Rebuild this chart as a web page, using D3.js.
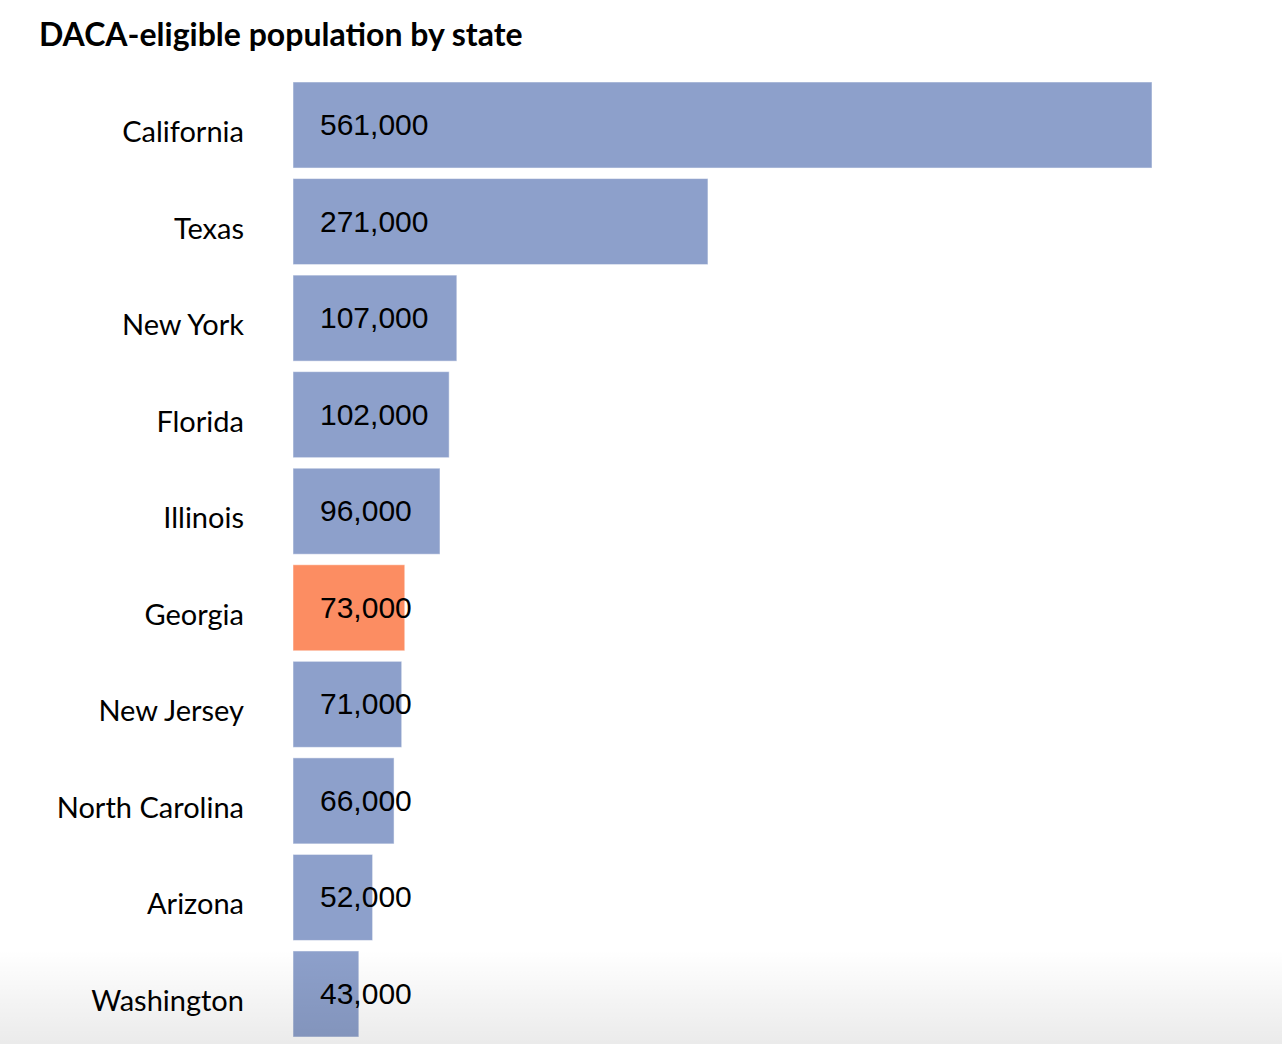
<!DOCTYPE html>
<html>
<head>
<title>DACA-eligible population by state</title>
<script src="https://d3js.org/d3.v7.min.js"></script>
<style>
  body { margin: 0; background: #fff; }
  .state { font-family: Lato, sans-serif; font-size: 29px; fill: #000; }
  .value { font-family: "Liberation Sans", Arial, sans-serif; font-size: 30px; fill: #000; }
  .title { font-family: Lato, sans-serif; font-size: 32px; font-weight: bold; fill: #000; }
</style>
</head>
<body>
<script>
var states = ["California", "Texas", "New York", "Florida", "Illinois",
  "Georgia", "New Jersey", "North Carolina", "Arizona", "Washington"];
var populations = [561000, 271000, 107000, 102000, 96000,
  73000, 71000, 66000, 52000, 43000];
var highlighted = ["Georgia"];

var width = 1282, height = 1044;

var data = states.map(function(s, i) {
  return { state: s, value: populations[i] };
});

var svg = d3.select("body").append("svg")
  .attr("width", width)
  .attr("height", height);

var defs = svg.append("defs");
var grad = defs.append("linearGradient")
  .attr("id", "fade")
  .attr("x1", 0).attr("y1", 0).attr("x2", 0).attr("y2", 1);
grad.append("stop").attr("offset", "0%").attr("stop-color", "#000").attr("stop-opacity", 0);
grad.append("stop").attr("offset", "100%").attr("stop-color", "#000").attr("stop-opacity", 0.08);

svg.append("text")
  .attr("class", "title")
  .attr("x", 39)
  .attr("y", 46)
  .text("DACA-eligible population by state");

var x = d3.scaleLinear()
  .domain([0, d3.max(populations)])
  .range([293, 1152]);

var y = d3.scaleBand()
  .domain(states)
  .range([82, 1037])
  .paddingInner(0.109)
  .paddingOuter(0);

var rows = svg.selectAll("g.row")
  .data(data)
  .enter()
    .append("g")
      .attr("class", "row");

rows.append("rect")
  .attr("x", x(0))
  .attr("y", function(d) { return y(d.state); })
  .attr("width", function(d) { return x(d.value) - x(0); })
  .attr("height", y.bandwidth())
  .attr("fill", function(d) {
    return highlighted.indexOf(d.state) >= 0 ? "#fc8d62" : "#8da0cb";
  })
  .attr("stroke", "#fff")
  .attr("stroke-opacity", 0.5)
  .attr("stroke-width", 1);

// state names, to the left of the bars
rows.append("text")
  .attr("class", "state")
  .attr("x", 244)
  .attr("y", function(d) { return y(d.state) + y.bandwidth() / 2 + 17; })
  .attr("text-anchor", "end")
  .text(function(d) { return d.state; });

// value labels inside the bars
rows.append("text")
  .attr("class", "value")
  .attr("x", x(0) + 27)
  .attr("y", function(d) { return y(d.state) + y.bandwidth() / 2 + 10; })
  .text(function(d) { return d3.format(",")(d.value); });

// faint shade at the bottom of the page
svg.append("rect")
  .attr("x", 0)
  .attr("y", 950)
  .attr("width", width)
  .attr("height", height - 950)
  .attr("fill", "url(#fade)")
  .attr("pointer-events", "none");
</script>
</body>
</html>
